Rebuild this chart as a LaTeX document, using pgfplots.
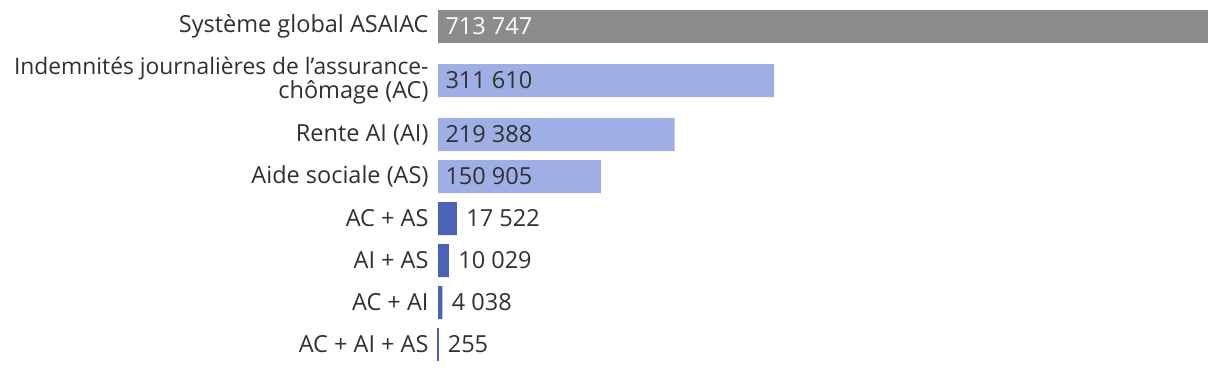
\documentclass[border=0pt]{standalone}
\usepackage{fontspec}
\setmainfont{Open Sans}
\usepackage{pgfplots}
\pgfplotsset{compat=1.18}
\definecolor{cgray}{HTML}{8C8C8C}
\definecolor{clight}{HTML}{9DAFE5}
\definecolor{cdark}{HTML}{4B63B7}
\definecolor{ctext}{HTML}{303030}
\begin{document}
\begin{tikzpicture}
\useasboundingbox (0,0) rectangle (1220pt,372pt);
\begin{axis}[
  at={(438pt,0pt)}, anchor=south west,
  scale only axis, width=770pt, height=372pt,
  xmin=0, xmax=713747, ymin=0, ymax=372, y dir=reverse,
  axis line style={draw=none}, clip=false,
  xtick=\empty,
  ytick={26.5,80.5,134.5,176.5,218.5,260.5,302.5,344.5},
  yticklabels={Système global ASAIAC,{{\fontsize{22.8}{24.5}\selectfont Indemnités journalières de l{\char39}assurance-}\\chômage (AC)},Rente AI (AI),Aide sociale (AS),AC + AS,AI + AS,AC + AI,AC + AI + AS},
  yticklabel style={font=\fontsize{23.5}{24.5}\selectfont, text=ctext, align=right, anchor=east, xshift=-6pt},
  major tick length=0pt, tick style={draw=none},
]
\addplot[xbar, bar width=33pt, fill=cgray, draw=none, bar shift=0pt] coordinates {(713747,26.5)};
\addplot[xbar, bar width=33pt, fill=clight, draw=none, bar shift=0pt] coordinates {(311610,80.5) (219388,134.5) (150905,176.5)};
\addplot[xbar, bar width=33pt, fill=cdark, draw=none, bar shift=0pt] coordinates {(17522,218.5) (10029,260.5) (4038,302.5)};
\addplot[xbar, bar width=31pt, fill=cdark, draw=cdark, line width=1.6pt, bar shift=0pt] coordinates {(255,344.5)};
\addplot[draw=none, mark=none, nodes near coords, point meta=explicit symbolic,
  nodes near coords style={anchor=west, xshift=4pt, text=white, font=\fontsize{23.5}{24.5}\selectfont}]
  coordinates {(0,26.5)[713 747]};
\addplot[draw=none, mark=none, nodes near coords, point meta=explicit symbolic,
  nodes near coords style={anchor=west, xshift=4pt, text=ctext, font=\fontsize{23.5}{24.5}\selectfont}]
  coordinates {(0,80.5)[311 610] (0,134.5)[219 388] (0,176.5)[150 905]};
\addplot[draw=none, mark=none, nodes near coords, point meta=explicit symbolic,
  nodes near coords style={anchor=west, xshift=6pt, text=ctext, font=\fontsize{23.5}{24.5}\selectfont}]
  coordinates {(17522,218.5)[17 522] (10029,260.5)[10 029] (4038,302.5)[4 038] (255,344.5)[255]};
\end{axis}
\end{tikzpicture}
\end{document}
